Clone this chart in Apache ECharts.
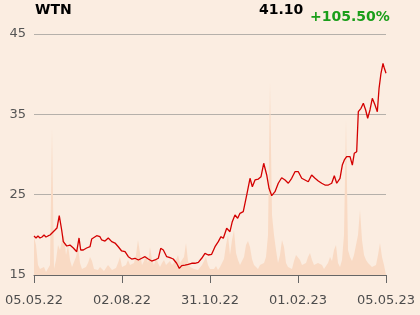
<!DOCTYPE html>
<html><head><meta charset="utf-8">
<script src="https://cdn.jsdelivr.net/npm/echarts@6/dist/echarts.min.js"></script>
<style>html,body{margin:0;padding:0;background:#fbede1;}#c{width:420px;height:315px;}</style>
</head><body><div id="c"></div>
<script>
// Tick labels of the time axis (equally spaced quarters over one year)
var tickLabels = ['05.05.22', '02.08.22', '31.10.22', '01.02.23', '05.05.23'];
var yearDays = 365;

// Price series: day offset from 05.05.22 and closing price
var priceDays = [0,2.1,4.1,6.2,8.3,10.4,12.4,14.5,16.6,18.7,21.8,23.8,26.2,28.7,30.4,33.9,37.3,40.8,44.3,46.7,48.4,51.1,54.6,58.1,59.8,65.0,68.4,70.2,73.6,77.0,80.6,84.0,87.4,90.9,94.4,97.8,101.3,104.7,108.2,111.7,115.1,118.5,122.0,125.5,128.9,131.4,134.1,137.6,141.0,144.4,147.9,150.7,153.2,156.6,160.0,163.5,166.9,170.4,173.9,177.3,180.7,184.2,187.7,191.1,193.9,196.3,199.8,203.2,205.6,208.4,211.2,213.6,217.0,220.6,224.0,226.4,229.2,232.6,235.4,238.2,241.3,243.7,246.5,249.9,253.3,256.8,260.3,263.7,267.2,270.6,274.1,277.6,281.0,284.4,286.2,287.9,291.4,294.8,298.3,301.7,305.2,308.7,311.4,313.9,317.3,319.7,321.8,324.2,327.7,330.1,332.1,334.6,336.3,339.1,341.5,343.9,346.0,348.4,350.8,353.6,356.0,357.8,359.8,361.9,363.3,365];
var prices = [19.86,19.61,19.86,19.61,19.73,19.98,19.73,19.86,19.98,20.23,20.60,20.85,22.38,20.60,19.15,18.61,18.73,18.36,17.90,19.61,18.11,18.11,18.36,18.52,19.48,19.89,19.77,19.36,19.23,19.61,19.15,18.98,18.52,17.99,17.90,17.28,16.99,17.08,16.87,17.08,17.28,16.99,16.74,16.87,17.08,18.32,18.11,17.28,17.15,16.99,16.46,15.83,16.16,16.24,16.33,16.46,16.46,16.58,17.08,17.70,17.49,17.58,18.52,19.15,19.77,19.57,20.81,20.39,21.64,22.47,22.06,22.68,22.88,24.96,27.04,25.99,26.83,26.95,27.24,28.91,27.45,25.79,24.87,25.37,26.42,27.11,26.83,26.42,27.04,27.86,27.86,27.04,26.83,26.61,26.42,27.45,27.04,26.70,26.42,26.20,26.20,26.42,27.36,26.42,27.04,28.69,29.32,29.73,29.73,28.69,30.15,30.35,35.33,35.75,36.37,35.54,34.51,35.54,37.00,36.16,35.33,38.24,40.11,41.35,40.73,40.11];

// Volume (relative units), evenly spaced over the year
var volumes = [38,30,10,6,4,8,3,5,10,147,6,15,30,25,35,40,20,30,15,8,10,18,28,12,6,5,8,12,18,14,6,4,5,8,6,4,6,10,8,5,4,7,12,18,8,6,10,15,10,8,12,20,35,22,10,14,20,12,28,15,10,18,12,8,12,15,10,8,14,10,8,15,20,12,10,18,32,14,8,10,6,8,5,7,10,14,18,10,6,8,6,9,5,8,12,16,30,40,20,35,45,22,15,10,12,18,30,34,28,16,10,8,6,10,8,12,18,40,193,60,40,25,12,20,35,28,12,8,10,6,14,20,18,15,10,8,12,18,22,15,10,8,12,14,10,6,8,12,18,14,25,30,12,8,15,40,155,25,18,14,20,30,40,65,35,20,15,12,10,8,6,10,20,32,18,10,8];

var titleText = 'WTN';
var lastPriceText = '41.10';
var changeText = '+105.50%';

var priceData = priceDays.map(function (d, i) { return [d, prices[i]]; });
var volData = volumes.map(function (v, i) { return [i * yearDays / (volumes.length - 1), v]; });

var chart = echarts.init(document.getElementById('c'));
chart.setOption({
  backgroundColor: '#fbede1',
  animation: false,
  title: [
    { text: titleText, left: 35, top: 3, padding: 0, textStyle: { fontFamily: 'DejaVu Sans', fontSize: 14, fontWeight: 'bold', color: '#000' } },
    { text: lastPriceText, left: 259, top: 3, padding: 0, textStyle: { fontFamily: 'DejaVu Sans', fontSize: 14, fontWeight: 'bold', color: '#000' } },
    { text: changeText, left: 310, top: 10, padding: 0, textStyle: { fontFamily: 'DejaVu Sans', fontSize: 14, fontWeight: 'bold', color: '#1a9e1a' } }
  ],
  grid: { left: 34, right: 34, top: 34, bottom: 40, containLabel: false },
  xAxis: {
    type: 'value', min: 0, max: yearDays, interval: yearDays / 4,
    axisLine: { show: true, lineStyle: { color: '#666', width: 1 } },
    axisTick: { show: true, length: 8, lineStyle: { color: '#666' } },
    splitLine: { show: false },
    axisLabel: {
      margin: 19, fontFamily: 'DejaVu Sans', fontSize: 13, color: '#4d4d4d',
      formatter: function (v) { return tickLabels[Math.round(v / (yearDays / 4))] || ''; }
    }
  },
  yAxis: [
    {
      type: 'value', min: 15, max: 45, interval: 10,
      axisLine: { show: false }, axisTick: { show: false },
      splitLine: { show: true, lineStyle: { color: '#b5b0aa', width: 1 } },
      axisLabel: { margin: 8, fontFamily: 'DejaVu Sans', fontSize: 13, color: '#555' }
    },
    {
      type: 'value', min: 0, max: 241, show: false,
      splitLine: { show: false }
    }
  ],
  series: [
    {
      type: 'line', yAxisIndex: 1, data: volData, symbol: 'none', z: 1,
      lineStyle: { width: 0 },
      areaStyle: { color: '#f9dac4', opacity: 1 }
    },
    {
      type: 'line', yAxisIndex: 0, data: priceData, symbol: 'none', z: 3,
      lineStyle: { color: '#d40000', width: 1.3 }
    }
  ]
});
</script>
</body></html>
